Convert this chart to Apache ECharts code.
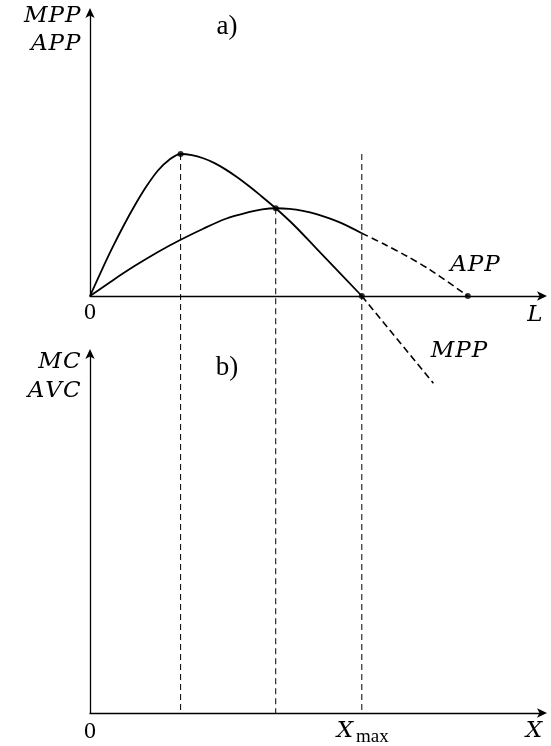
<!DOCTYPE html>
<html>
<head>
<meta charset="utf-8">
<script src="https://cdn.jsdelivr.net/npm/echarts@6/dist/echarts.min.js"></script>
<style>
  html, body { margin: 0; padding: 0; background: #fff; }
  #chart { width: 551px; height: 746px; }
</style>
</head>
<body>
<div id="chart"></div>
<script>
// Labour input L and the product curves of the short run
const mppL      = [0, 0.25, 0.5, 0.75, 1.0, 1.25, 1.5, 1.75, 2.0, 2.25, 2.5, 2.75, 3.0, 3.25, 3.5, 3.75, 4.1, 4.5, 5.0, 6.0];
const mppValues = [0, 0.88, 1.72, 2.5, 3.22, 3.87, 4.42, 4.8, 5.0, 4.96, 4.85, 4.68, 4.45, 4.18, 3.88, 3.56, 3.09, 2.5, 1.67, 0];
const mppTailL      = [6.0, 7.58];
const mppTailValues = [0, -3.07];

const appL      = [0, 0.5, 1.0, 1.5, 2.0, 2.5, 3.0, 3.5, 3.8, 4.1, 4.4, 4.7, 5.0, 5.5, 6.0];
const appValues = [0, 0.55, 1.07, 1.55, 1.98, 2.37, 2.72, 2.95, 3.05, 3.09, 3.07, 3.0, 2.88, 2.6, 2.21];
const appTailL      = [6.0, 6.5, 7.0, 7.5, 8.34];
const appTailValues = [2.21, 1.82, 1.40, 0.93, 0];

// Marked points: MPP maximum, MPP = APP, MPP = 0, APP = 0
const keyL      = [2.0, 4.1, 6.0, 8.34];
const keyValues = [5.0, 3.09, 0, 0];

// Vertical guides run from these heights down to the X axis of panel b)
const guideL   = [2.0, 4.1, 6.0];
const guideTop = [5.0, 3.09, 5.0];

const axisMax = 10;

const pairs = (xs, ys) => xs.map((x, i) => [x, ys[i]]);

const mathFont = { fontFamily: 'DejaVu Serif', fontStyle: 'italic', fontSize: 23, fill: '#000' };
const romanFont = { fontFamily: 'Liberation Serif', fontSize: 27, fill: '#000' };

function axisPair(gridIndex) {
  const line = {
    show: true,
    onZero: false,
    symbol: ['none', 'arrow'],
    symbolSize: [7, 10],
    symbolOffset: [0, 4],
    lineStyle: { color: '#000', width: 1.3 }
  };
  const base = {
    type: 'value', gridIndex, min: 0, max: axisMax,
    axisLine: line, axisTick: { show: false }, axisLabel: { show: false }, splitLine: { show: false }
  };
  return { x: Object.assign({}, base), y: Object.assign({}, base) };
}

const panelA = axisPair(0), panelB = axisPair(1);

const curveStyle = { color: '#000', width: 1.8 };
const tailStyle  = { color: '#000', width: 1.6, type: [7, 4] };

const chart = echarts.init(document.getElementById('chart'), null, { renderer: 'canvas' });

chart.setOption({
  animation: false,
  backgroundColor: '#fff',
  grid: [
    { left: 90, top: 12, width: 453, height: 284 },
    { left: 90, top: 353, width: 453, height: 360 }
  ],
  xAxis: [panelA.x, panelB.x],
  yAxis: [panelA.y, panelB.y],
  series: [
    {
      name: 'MPP', type: 'line', xAxisIndex: 0, yAxisIndex: 0,
      data: pairs(mppL, mppValues), smooth: 0.3, showSymbol: false,
      lineStyle: curveStyle, z: 3
    },
    {
      name: 'MPP tail', type: 'line', xAxisIndex: 0, yAxisIndex: 0, clip: false,
      data: pairs(mppTailL, mppTailValues), showSymbol: false,
      lineStyle: tailStyle, z: 3
    },
    {
      name: 'APP', type: 'line', xAxisIndex: 0, yAxisIndex: 0,
      data: pairs(appL, appValues), smooth: 0.3, showSymbol: false,
      lineStyle: curveStyle, z: 3
    },
    {
      name: 'APP tail', type: 'line', xAxisIndex: 0, yAxisIndex: 0,
      data: pairs(appTailL, appTailValues), smooth: 0.3, showSymbol: false,
      lineStyle: tailStyle, z: 3
    },
    {
      name: 'points', type: 'scatter', xAxisIndex: 0, yAxisIndex: 0, clip: false,
      data: pairs(keyL, keyValues), symbol: 'circle', symbolSize: 6,
      itemStyle: { color: '#000' }, z: 5
    }
  ]
});

// Guides: convert the upper end (panel a) and the foot (panel b) through the axes
const guides = guideL.map((L, i) => {
  const p1 = chart.convertToPixel({ xAxisIndex: 0, yAxisIndex: 0 }, [L, guideTop[i]]);
  const p2 = chart.convertToPixel({ xAxisIndex: 1, yAxisIndex: 1 }, [L, 0]);
  return {
    type: 'line', silent: true, z: 1,
    shape: { x1: p1[0], y1: p1[1], x2: p2[0], y2: p2[1] },
    style: { stroke: '#000', lineWidth: 1, lineDash: [6, 4] }
  };
});

// Math-italic symbols are set letter by letter with a little extra room
function mathText(text, x, y, align) {
  return {
    type: 'text', x, y, z: 10,
    style: {
      text: text.split('').map(c => '{m|' + c + '}').join(''),
      align: align || 'center', verticalAlign: 'middle',
      rich: { m: Object.assign({ padding: [0, 0.5, 0, 0.5] }, mathFont) }
    }
  };
}

const plainText = (text, x, y, font, align) => ({
  type: 'text', x, y, z: 10,
  style: Object.assign({ text, align: align || 'center', verticalAlign: 'middle' }, font)
});

const zeroFont = Object.assign({}, romanFont, { fontSize: 24 });

const labels = [
  mathText('MPP', 81, 16, 'right'),
  mathText('APP', 81, 44, 'right'),
  plainText('a)', 227, 27, romanFont),
  plainText('0', 90, 313, zeroFont),
  mathText('L', 535, 315),
  mathText('APP', 475, 265),
  mathText('MPP', 459, 351),
  mathText('MC', 81, 362, 'right'),
  mathText('AVC', 81, 391, 'right'),
  plainText('b)', 227, 368, romanFont),
  plainText('0', 90, 732, zeroFont),
  mathText('X', 345, 731),
  plainText('max', 356, 737, { fontFamily: 'Liberation Serif', fontSize: 19, fill: '#000' }, 'left'),
  mathText('X', 534, 731)
];

chart.setOption({ graphic: guides.concat(labels) });
</script>
</body>
</html>
